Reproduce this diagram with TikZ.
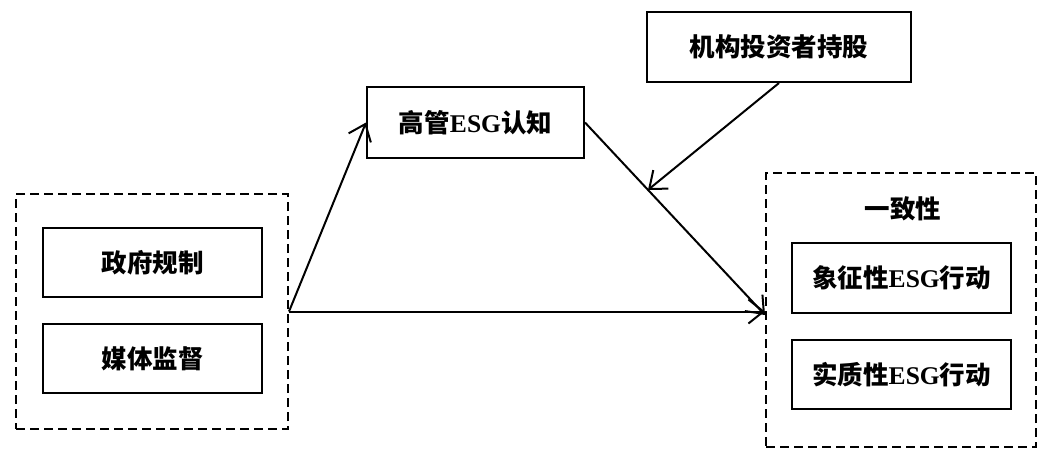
\documentclass[tikz,border=0pt]{standalone}
\usepackage{fontspec}
\setmainfont{Liberation Serif}
\newfontfamily\cjk{Noto Sans CJK SC}
\usetikzlibrary{arrows.meta}
\newcommand{\esg}{{\rmfamily\bfseries ESG}}
\begin{document}
\begin{tikzpicture}[x=1pt,y=-1pt,
  lbl/.style={font=\fontsize{25.5}{28}\selectfont\cjk\bfseries},
  box/.style={draw,line width=2pt,minimum width=219pt,minimum height=69pt,inner sep=0pt,lbl},
  grp/.style={draw,line width=2pt,dash pattern=on 9pt off 5pt,inner sep=0pt},
  arr/.style={line width=2pt,-{Straight Barb[length=15pt,width=24pt,line width=2pt]}}]
\useasboundingbox (0,0) rectangle (1038,451);
\node[grp,minimum width=272pt,minimum height=235pt] (L) at (152,311.5) {};
\node[box] (gov) at (152.5,262.5) {政府规制};
\node[box] (media) at (152.5,358.5) {媒体监督};
\node[box,minimum width=217pt,minimum height=71pt] (mgr) at (475.5,122.5) {高管\esg 认知};
\node[box,minimum width=264pt,minimum height=70pt] (inst) at (779,47) {机构投资者持股};
\node[grp,minimum width=270pt,minimum height=274pt] (R) at (901,310) {};
\node[lbl] (cons) at (903,209) {一致性};
\node[box,minimum height=70pt] (sym) at (901.5,278) {象征性\esg 行动};
\node[box] (sub) at (901.5,374.5) {实质性\esg 行动};
\draw[arr] (L.east) -- (mgr.west);
\draw[arr] (L.east) -- (L.east -| R.west);
\draw[arr] (mgr.east) -- ([yshift=-5pt]R.west) coordinate[pos=0.35] (mid);
\draw[arr] (inst.south) -- (mid);
\end{tikzpicture}
\end{document}
